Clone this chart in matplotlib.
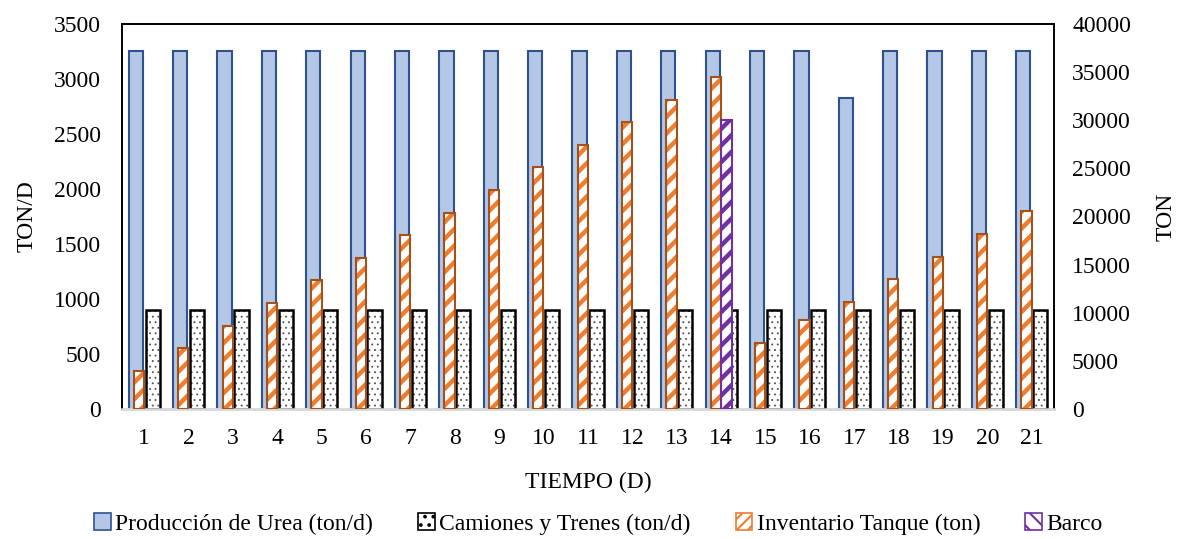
import numpy as np
import matplotlib
matplotlib.use('Agg')
import matplotlib.pyplot as plt
from matplotlib.patches import Patch

plt.rcParams['font.family'] = ['Liberation Serif', 'DejaVu Serif']

dias = list(range(1, 22))
produccion = [3250, 3250, 3250, 3250, 3250, 3250, 3250, 3250, 3250, 3250, 3250,
              3250, 3250, 3250, 3250, 3250, 2830, 3250, 3250, 3250, 3250]
camiones = [900] * 21
inventario = [3950, 6300, 8650, 11000, 13350, 15700, 18050, 20400, 22750, 25100, 27450,
              29800, 32150, 34500, 6850, 9200, 11130, 13480, 15830, 18180, 20530]
barco_dias = [14]
barco = [30000]

c_blue, c_blue_edge = '#B4C7E7', '#2F528F'
c_orange, c_orange_edge = '#ED7D31', '#A5511A'
c_purple = '#7030A0'
fs = 17

fig = plt.figure(figsize=(11.78, 5.39), dpi=100)
ax = fig.add_axes([0.1036, 0.2412, 0.7911, 0.7143])
ax2 = ax.twinx()

x = np.array(dias)
xb = np.array(barco_dias)

# Primary axis: production and trucks
ax.bar(x - 0.19, produccion, width=0.32, color=c_blue, edgecolor=c_blue_edge, linewidth=1.5, zorder=2)
plt.rcParams['hatch.linewidth'] = 0.6
ax.bar(x + 0.19, camiones, width=0.32, color='white', edgecolor='#505050', hatch='...',
       linewidth=0, zorder=2)
ax.bar(x + 0.19, camiones, width=0.32, fill=False, edgecolor='black', linewidth=1.8, zorder=3)

# Secondary axis: tank inventory and ship
plt.rcParams['hatch.linewidth'] = 3.2
ax2.bar(x - 0.12, inventario, width=0.23, color='white', edgecolor=c_orange, hatch='//',
        linewidth=0, zorder=2)
ax2.bar(x - 0.12, inventario, width=0.23, fill=False, edgecolor=c_orange_edge, linewidth=1.5, zorder=3)
ax2.bar(xb + 0.12, barco, width=0.23, color='white', edgecolor=c_purple, hatch='//',
        linewidth=0, zorder=2)
ax2.bar(xb + 0.12, barco, width=0.23, fill=False, edgecolor=c_purple, linewidth=1.5, zorder=3)

ax.set_xlim(0.5, 21.5)
ax.set_ylim(0, 3500)
ax2.set_ylim(0, 40000)
ax.set_yticks(np.arange(0, 3501, 500))
ax2.set_yticks(np.arange(0, 40001, 5000))
ax.set_xticks(x)
ax.set_xticklabels([str(d) for d in dias])

ax.tick_params(axis='both', length=0, labelsize=fs, pad=15)
ax.tick_params(axis='x', pad=14)
ax2.tick_params(axis='y', length=0, labelsize=fs, pad=13)

ax.set_ylabel('TON/D', fontsize=fs, labelpad=12)
ax2.set_ylabel('TON', fontsize=fs, labelpad=18)
ax.set_xlabel('TIEMPO (D)', fontsize=fs, labelpad=16)

for a in (ax, ax2):
    for s in a.spines.values():
        s.set_color('black')
        s.set_linewidth(1.2)
    a.spines['bottom'].set_color('#D9D9D9')
    a.spines['bottom'].set_linewidth(1.8)

plt.rcParams['hatch.linewidth'] = 1.5
handles = [
    Patch(facecolor=c_blue, edgecolor=c_blue_edge, linewidth=1.2),
    Patch(facecolor='white', edgecolor='black', hatch='..', linewidth=1.2),
    Patch(facecolor='white', edgecolor=c_orange, hatch='///', linewidth=1.2),
    Patch(facecolor='white', edgecolor=c_purple, hatch='\\\\', linewidth=1.2),
]
labels = ['Producción de Urea (ton/d)', 'Camiones y Trenes (ton/d)',
          'Inventario Tanque (ton)', 'Barco']
fig.legend(handles, labels, loc='center', bbox_to_anchor=(0.508, 0.028), ncol=4,
           frameon=False, fontsize=fs, handlelength=0.7, handleheight=0.7,
           handletextpad=0.2, columnspacing=1.9)

fig.savefig('out.png', dpi=100)
